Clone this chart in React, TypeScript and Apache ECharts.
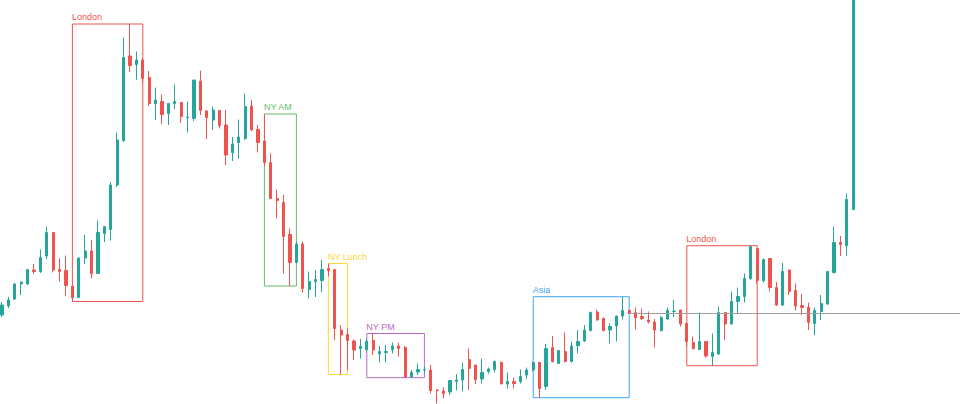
import React, { useEffect, useRef } from "react";
import * as echarts from "echarts";

// OHLC values (one entry per candle, oldest first)
const opens = [
  89, 98, 105, 120, 120, 134, 132.5, 148, 171.5, 134.5,
  133.5, 118, 106.5, 146, 153, 130.5, 170.5, 174.5, 219, 263.5,
  348, 339.5, 344, 326.5, 300.5, 302.5, 290.5, 300.5, 301.5, 286.5,
  285.5, 323, 293, 284, 293.5, 279, 251.5, 261.5, 265.5, 298,
  274.5, 263, 241.5, 205.5, 201.5, 169.5, 141.5, 160, 114.5, 122.5,
  123.5, 135.5, 134.5, 74, 69.5, 63, 55.5, 54.5, 63.5, 50,
  51.5, 54.5, 58, 56.5, 27, 32, 34, 34, 14, 13,
  12, 22.5, 24, 44.5, 39, 25, 32.5, 34.5, 41.5, 20,
  22.5, 22.5, 29, 34, 41.5, 17.5, 56.5, 40.5, 52.5, 42.5,
  58.5, 63, 73.5, 92, 85.5, 74, 78, 88, 93.5, 91.5,
  87.5, 84, 82, 73.5, 85, 92.5, 94, 80.5, 61.5, 54.5,
  62.5, 47.5, 50, 91.5, 80, 102.5, 107.5, 125.5, 155.5, 123.5,
  145.5, 116.5, 99, 134, 113.5, 98.5, 96.5, 80.5, 92.5, 100,
  131.5, 161.5, 158.5, 194.5,
];
const closes = [
  99, 104, 120, 122, 134.5, 132.5, 146.5, 171.5, 134, 132.5,
  118.5, 106.5, 146, 153, 130.5, 171.5, 177.5, 219, 264, 346.5,
  338.5, 344, 325.5, 300.5, 304, 289.5, 300.5, 302.5, 287.5, 287,
  324, 293.5, 286.5, 294, 278.5, 249, 260, 267, 297.5, 274,
  261.5, 241.5, 205.5, 203.5, 167.5, 141.5, 160, 115.5, 122.5, 124.5,
  134.5, 133.5, 75.5, 69, 63.5, 54, 57.5, 62.5, 54, 52.5,
  52.5, 58, 55.5, 27, 31.5, 34.5, 34.3, 13.5, 13.5, 10.5,
  23.5, 24, 34.5, 35.5, 24.5, 31.5, 35, 42.5, 20, 22.5,
  20.5, 27.5, 34, 41.5, 15.5, 55.5, 42.5, 53.5, 42.5, 58,
  62.5, 74, 91.5, 84, 73.5, 77.5, 88, 93.5, 91, 86.5,
  85.5, 82, 74, 86.5, 93.5, 93, 80, 62.5, 55.5, 62.5,
  48, 51.5, 91.5, 80, 102.5, 107.5, 125.5, 157.5, 123.5, 144.5,
  116.5, 99, 132.5, 112.5, 98, 96.5, 81.5, 93.5, 100.5, 132.5,
  161.5, 159.5, 204.5, 480,
];
const lows = [
  87, 96, 104, 109, 119, 130, 131, 145, 131.5, 122.5,
  108, 102.5, 106, 140, 125.5, 130.5, 162, 163.5, 217, 262,
  332, 324, 321, 298, 284, 280, 279, 295, 281, 271.5,
  283, 289, 265, 274, 275.5, 239, 243, 245.5, 264, 273,
  251.5, 237.5, 205, 185.5, 130.5, 118, 140.5, 111.5, 105.5, 107,
  112, 127.5, 64, 29.5, 34, 44, 45.5, 52.5, 49, 41.5,
  41.5, 50.5, 47.5, 26.5, 26.3, 29, 30.5, 10.5, 0.5, 5.5,
  9, 13.5, 12.5, 14, 20, 20.5, 30.5, 31.5, 20, 15.5,
  15.5, 20.5, 25, 32.5, 6.3, 14, 41.5, 40, 41.5, 41.5,
  50.5, 62, 72.5, 83.5, 72.5, 60.5, 62.5, 84.5, 90, 74.5,
  84, 80.5, 56.5, 72.5, 84, 87, 77.5, 57.5, 54.5, 54,
  46.5, 38.3, 49, 64, 80, 90.5, 101.5, 124, 120.5, 121.5,
  112.5, 98, 98, 109, 93.5, 89, 74, 69, 84, 99,
  130.5, 148, 148, 194.5,
];
const highs = [
  102, 107, 121, 122.5, 135, 140, 154.5, 177.5, 171.5, 145.5,
  148.5, 118.5, 146.5, 169, 164, 183.5, 178, 222, 271.5, 366.5,
  380, 352.5, 346, 333, 316.5, 309.5, 301, 319.5, 302, 302.5,
  324, 333.5, 294, 297.5, 294, 294, 267, 284.5, 310.5, 304,
  279, 290, 250.5, 214.5, 209, 175.5, 162.5, 162.3, 132.5, 134,
  144, 140.5, 134.5, 79, 75.5, 64.5, 65, 65.5, 70.5, 58,
  59, 61.5, 61.5, 58, 34, 40.5, 37.5, 39, 14.5, 16.5,
  24, 30, 41.5, 55.5, 39, 45.5, 36.5, 43.5, 42.5, 31.5,
  26.5, 34.5, 36.5, 42.5, 41.5, 60, 68, 54, 71.5, 62.5,
  74, 79, 92.5, 94.5, 86.5, 80.5, 88, 107.3, 94.5, 96.5,
  95.5, 92.5, 85, 88, 96.5, 104, 94, 80.5, 67.5, 91.5,
  62.5, 70.5, 97.5, 91.5, 112.5, 116.5, 130.5, 158.3, 155.5, 145.5,
  145.5, 122, 141, 134.5, 120.5, 110, 101.5, 96.5, 109, 132.5,
  177.5, 168, 210.5, 500,
];

// Trading sessions (candle index ranges)
const sessionNames = ["London", "NY AM", "NY Lunch", "NY PM", "Asia", "London"];
const sessionStart = [11, 41, 51, 57, 83, 107];
const sessionEnd = [22, 46, 54, 66, 98, 118];
const sessionColors = ["#ef5350", "#66bb6a", "#fdd835", "#ba68c8", "#42a5f5", "#ef5350"];

// Level drawn from the close of this candle to the right edge
const levelIndex = 98;

const CATEGORY_COUNT = 151; // includes empty space on the right
const categories = Array.from({ length: CATEGORY_COUNT }, (_, i) => `${i}`);

const UP = "#26a69a";
const DOWN = "#ef5350";

export default function App() {
  const ref = useRef<HTMLDivElement>(null);

  useEffect(() => {
    document.body.style.margin = "0";
    if (!ref.current) return;
    const chart = echarts.init(ref.current, undefined, { renderer: "svg" });

    const candles = opens.map((o, i) => [o, closes[i], lows[i], highs[i]]);

    const markAreaData = sessionNames.map((name, k) => {
      const s = sessionStart[k];
      const e = sessionEnd[k];
      let top = -Infinity;
      let bottom = Infinity;
      for (let i = s; i <= e; i++) {
        top = Math.max(top, highs[i]);
        bottom = Math.min(bottom, lows[i]);
      }
      const c = sessionColors[k];
      return [
        {
          name,
          coord: [s, top],
          itemStyle: { color: "rgba(0,0,0,0)", borderColor: c, borderWidth: 1 },
          label: { color: c },
        },
        { coord: [e, bottom] },
      ];
    });

    const level = closes[levelIndex];

    chart.setOption({
      animation: false,
      backgroundColor: "#ffffff",
      grid: {
        left: -1.2,
        right: -5.2,
        top: 0,
        bottom: 0,
        containLabel: false,
        outerBoundsMode: "none",
      },
      xAxis: {
        type: "category",
        data: categories,
        show: false,
        boundaryGap: true,
      },
      yAxis: {
        type: "value",
        min: 0,
        max: 404,
        show: false,
        splitLine: { show: false },
      },
      series: [
        {
          type: "candlestick",
          data: candles,
          barWidth: 2.6,
          clip: true,
          itemStyle: {
            color: UP,
            color0: DOWN,
            borderColor: UP,
            borderColor0: DOWN,
            borderWidth: 1,
          },
          markArea: {
            silent: true,
            label: {
              show: true,
              position: [0, -11],
              fontSize: 9,
              fontFamily: "Liberation Sans, Arial, sans-serif",
            },
            data: markAreaData,
          },
          markLine: {
            silent: true,
            symbol: ["none", "none"],
            label: { show: false },
            lineStyle: { color: "#9e9e9e", width: 1, type: "solid" },
            data: [
              [
                { coord: [levelIndex, level] },
                { coord: [CATEGORY_COUNT - 1, level] },
              ],
            ],
          },
        },
      ],
    });

    return () => chart.dispose();
  }, []);

  return <div ref={ref} style={{ width: 960, height: 404 }} />;
}
